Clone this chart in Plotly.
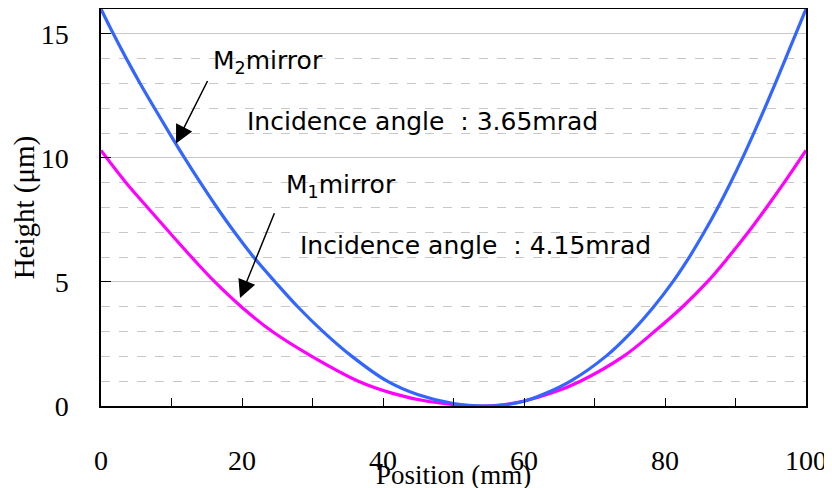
import plotly.graph_objects as go

# M2 mirror (incidence angle 3.65 mrad) - blue
m2_x = [0, 1.75, 3.6, 5.55, 7.6, 9.7, 11.85, 14.1, 16.45, 18.95, 21.65, 24.7, 27.9, 31.5, 35.6, 40.6, 45, 50, 54.5,
        57, 60, 63, 66.6, 71.6, 75.3, 78.4, 81.1, 83.45, 85.55, 87.5, 89.3, 91.0, 92.6, 94.15, 95.65, 97.1, 98.55, 100]
m2_y = [16, 15, 14, 13, 12, 11, 10, 9, 8, 7, 6, 5, 4, 3, 2, 1, 0.45, 0.1, 0,
        0.04, 0.19, 0.5, 1, 2, 3, 4, 5, 6, 7, 8, 9, 10, 11, 12, 13, 14, 15, 16]

# M1 mirror (incidence angle 4.15 mrad) - magenta
m1_x = [0, 3.55, 6.6, 9.7, 12.85, 16.15, 19.9, 24.3, 29.9, 36.5, 41.5, 46.5, 53.5,
        57, 60, 64, 68.0, 74.1, 78.5, 82.5, 86.0, 89.0, 91.8, 94.4, 96.9, 100]
m1_y = [10.3, 9, 8, 7, 6, 5, 4, 3, 2, 1, 0.5, 0.18, 0,
        0.05, 0.2, 0.53, 1, 2, 3, 4, 5, 6, 7, 8, 9, 10.3]

x_ticks = [0, 20, 40, 60, 80, 100]
y_ticks = [0, 5, 10, 15]

fig = go.Figure()
fig.add_trace(go.Scatter(x=m1_x, y=m1_y, mode="lines", line=dict(color="#ff00ff", width=3.2, shape="spline"),
                         name="M1"))
fig.add_trace(go.Scatter(x=m2_x, y=m2_y, mode="lines", line=dict(color="#3366ff", width=3.2, shape="spline"),
                         name="M2"))

txt_font = dict(family="DejaVu Sans", size=25, color="black")
fig.add_annotation(x=15.6, y=13.85, xref="x", yref="y", text="M<sub>2</sub>mirror", showarrow=False,
                   xanchor="left", yanchor="middle", font=txt_font)
fig.add_annotation(x=20.4, y=11.45, xref="x", yref="y", text="Incidence angle\u00a0 : 3.65mrad", showarrow=False,
                   xanchor="left", yanchor="middle", font=txt_font)
fig.add_annotation(x=26.0, y=8.85, xref="x", yref="y", text="M<sub>1</sub>mirror", showarrow=False,
                   xanchor="left", yanchor="middle", font=txt_font)
fig.add_annotation(x=27.9, y=6.45, xref="x", yref="y", text="Incidence angle\u00a0 : 4.15mrad", showarrow=False,
                   xanchor="left", yanchor="middle", font=txt_font)

# arrows
fig.add_annotation(x=10.64, y=10.58, ax=15.22, ay=13.16, xref="x", yref="y", axref="x", ayref="y",
                   text="", showarrow=True, arrowhead=2, arrowsize=2.4, arrowwidth=1.5, arrowcolor="black")
fig.add_annotation(x=19.72, y=4.35, ax=24.68, ay=7.83, xref="x", yref="y", axref="x", ayref="y",
                   text="", showarrow=True, arrowhead=2, arrowsize=2.4, arrowwidth=1.5, arrowcolor="black")

serif = "Liberation Serif"
fig.add_annotation(x=0.5, y=-0.175, xref="paper", yref="paper", text="Position (mm)", showarrow=False,
                   xanchor="center", yanchor="middle", font=dict(family=serif, size=27, color="black"))
fig.add_annotation(x=-0.108, y=0.5, xref="paper", yref="paper", text="Height (μm)", showarrow=False,
                   textangle=-90, xanchor="center", yanchor="middle",
                   font=dict(family=serif, size=29, color="black"))

tick_font = dict(family=serif, size=28, color="black")
fig.update_layout(
    width=824, height=480,
    margin=dict(l=93, r=26, t=1, b=82),
    paper_bgcolor="white", plot_bgcolor="white",
    showlegend=False,
    xaxis=dict(range=[0, 100], tickvals=x_ticks, ticks="inside", ticklen=8, tickcolor="black",
               showgrid=False, zeroline=False, showline=True, linecolor="black", linewidth=1.5, mirror=True,
               tickfont=tick_font, ticklabelstandoff=29, automargin=False,
               minor=dict(dtick=10, ticks="inside", ticklen=8, tickcolor="black", showgrid=False)),
    yaxis=dict(range=[0, 16], tickvals=y_ticks, ticks="inside", ticklen=10, tickcolor="black",
               showgrid=True, gridcolor="#c8c8c8", gridwidth=1, zeroline=False,
               showline=True, linecolor="black", linewidth=1.5, mirror=True,
               tickfont=tick_font, ticklabelstandoff=25, automargin=False,
               minor=dict(dtick=1, showgrid=True, griddash="dash", gridcolor="#c8c8c8", gridwidth=1, ticks="")),
)

fig.write_html("out.html")
